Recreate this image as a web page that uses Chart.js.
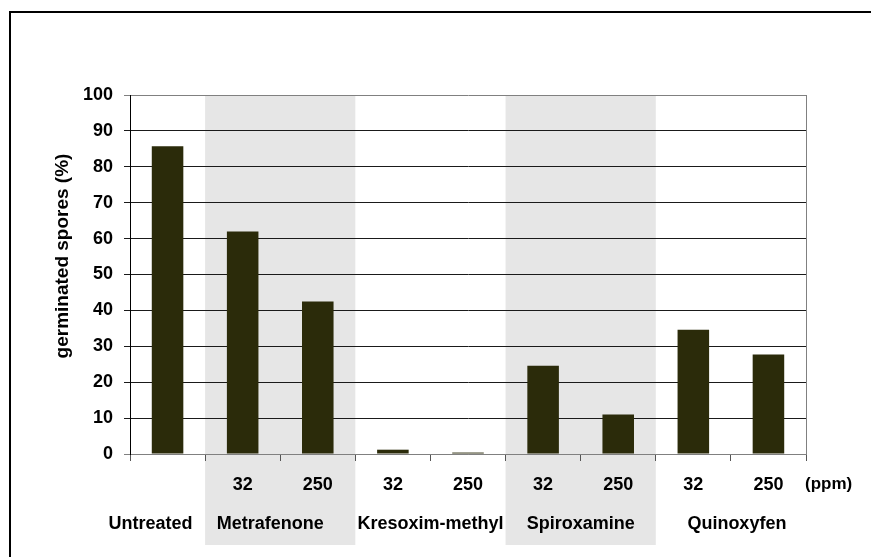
<!DOCTYPE html>
<html>
<head>
<meta charset="utf-8">
<script src="https://cdn.jsdelivr.net/npm/chart.js@4"></script>
<style>
html, body { margin: 0; padding: 0; background: #fff; }
canvas { display: block; }
</style>
</head>
<body>
<canvas id="sporeChart" width="871" height="557"></canvas>
<script>
// Data
const doses = ['', '32', '250', '32', '250', '32', '250', '32', '250'];
const germinated = [85.7, 62, 42.5, 1.2, 0.4, 24.6, 11, 34.6, 27.7];
const products = ['Untreated', 'Metrafenone', 'Kresoxim-methyl', 'Spiroxamine', 'Quinoxyfen'];
const productFirst = [0, 1, 3, 5, 7];
const productLast = [0, 2, 4, 6, 8];
const shadedProducts = [1, 3];
const yTitle = 'germinated spores (%)';
const unitLabel = '(ppm)';

// Layout tweaks (px) for the product name row
const nameNudge = [-17, -10, 0, 0, 6];

const FONT = "'Liberation Sans', Arial, sans-serif";
const boldFont = size => ({ family: FONT, size: size, weight: 'bold' });

// Background, shading, frame and the extra label rows
const decor = {
    id: 'decor',
    beforeDraw(chart) {
        const { ctx, chartArea, scales: { x } } = chart;
        ctx.save();
        ctx.fillStyle = '#fff';
        ctx.fillRect(0, 0, chart.width, chart.height);
        const half = (x.getPixelForValue(1) - x.getPixelForValue(0)) / 2;
        ctx.fillStyle = '#e6e6e6';
        shadedProducts.forEach(p => {
            const x0 = x.getPixelForValue(productFirst[p]) - half;
            const x1 = x.getPixelForValue(productLast[p]) + half;
            ctx.fillRect(x0, chartArea.top, x1 - x0, 545 - chartArea.top);
        });
        ctx.restore();
    },
    afterDraw(chart) {
        const { ctx, chartArea, scales: { x } } = chart;
        ctx.save();
        // right edge of the plot
        ctx.strokeStyle = '#808080';
        ctx.lineWidth = 1;
        ctx.beginPath();
        ctx.moveTo(Math.round(chartArea.right) + 0.5, chartArea.top);
        ctx.lineTo(Math.round(chartArea.right) + 0.5, chartArea.bottom);
        ctx.stroke();
        // outer frame (only top and left fall inside the picture)
        ctx.strokeStyle = '#000';
        ctx.lineWidth = 2;
        ctx.beginPath();
        ctx.moveTo(10, chart.height);
        ctx.lineTo(10, 12);
        ctx.lineTo(chart.width, 12);
        ctx.stroke();
        // product names
        ctx.fillStyle = '#000';
        ctx.font = 'bold 18px ' + FONT;
        ctx.textAlign = 'center';
        ctx.textBaseline = 'alphabetic';
        products.forEach((name, i) => {
            const cx = (x.getPixelForValue(productFirst[i]) + x.getPixelForValue(productLast[i])) / 2;
            ctx.fillText(name, cx + nameNudge[i], 529);
        });
        // unit
        ctx.textAlign = 'left';
        ctx.font = 'bold 17px ' + FONT;
        ctx.fillText(unitLabel, chartArea.right - 1, 489);
        // y title, sits a bit above the middle of the axis
        ctx.font = 'bold 19px ' + FONT;
        ctx.textAlign = 'center';
        ctx.textBaseline = 'middle';
        ctx.translate(63, 256);
        ctx.rotate(-Math.PI / 2);
        ctx.fillText(yTitle, 0, 0);
        ctx.restore();
    }
};

const ctx = document.getElementById('sporeChart').getContext('2d');
const sporeChart = new Chart(ctx, {
    type: 'bar',
    data: {
        labels: doses,
        datasets: [{
            data: germinated,
            backgroundColor: '#2b2b0a',
            borderWidth: 0,
            categoryPercentage: 1,
            barPercentage: 0.42
        }]
    },
    options: {
        responsive: false,
        animation: false,
        layout: { padding: { left: 20, right: 65, top: 95, bottom: 0 } },
        plugins: {
            legend: { display: false },
            tooltip: { enabled: false }
        },
        scales: {
            x: {
                offset: true,
                grid: { offset: true, drawOnChartArea: false, drawTicks: true, tickLength: 7, color: '#555' },
                border: { display: true, color: '#808080' },
                ticks: { color: '#000', font: boldFont(18), padding: 13, maxRotation: 0, autoSkip: false },
                afterFit(scale) { scale.height = 103; }
            },
            y: {
                min: 0,
                max: 100,
                grid: {
                    color: c => (c.tick && (c.tick.value === 0 || c.tick.value === 100)) ? '#808080' : '#1a1a1a',
                    tickLength: 6
                },
                border: { color: '#000' },
                ticks: { stepSize: 10, color: '#000', font: boldFont(18), padding: 11 },
                afterFit(scale) { scale.width = 110; }
            }
        }
    },
    plugins: [decor]
});
</script>
</body>
</html>
